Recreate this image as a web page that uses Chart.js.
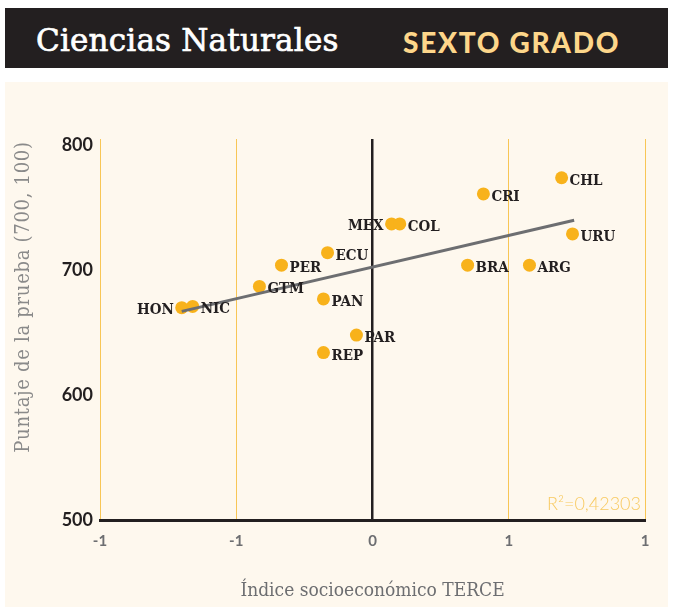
<!DOCTYPE html>
<html>
<head>
  <meta charset="utf-8">
  <title>Ciencias Naturales - Sexto grado</title>
  <script src="https://cdn.jsdelivr.net/npm/chart.js"></script>
  <style>
    body { margin: 0; width: 673px; height: 607px; background: #fff; position: relative; overflow: hidden; }
    .head { position: absolute; left: 5px; top: 8px; width: 663px; height: 60px; background: #231f20; }
    .head .t1 { position: absolute; left: 31px; top: 14px; font-family: "DejaVu Serif", serif; font-size: 31px; line-height: normal; color: #fff; letter-spacing: 0.2px; -webkit-text-stroke: 0.7px #fff; }
    .head .t2 { position: absolute; left: 398px; top: 17px; font-family: Lato, sans-serif; font-weight: 900; font-size: 28px; color: #fdd68a; letter-spacing: 1.7px; }
    .panel { position: absolute; left: 5px; top: 82px; width: 663px; height: 525px; background: #fef8ee; }
    #wrap { position: absolute; left: 0; top: 82px; width: 673px; height: 525px; }
  </style>
</head>
<body>
  <div class="head"><span class="t1">Ciencias Naturales</span><span class="t2">SEXTO GRADO</span></div>
  <div class="panel"></div>
  <div id="wrap"><canvas id="c" width="673" height="525"></canvas></div>
  <script>
    // countries and their values (index, score)
    const countries = ["HON", "NIC", "GTM", "PER", "ECU", "PAN", "PAR", "REP", "MEX", "COL", "CRI", "CHL", "URU", "BRA", "ARG"];
    const sesIndex = [-0.70, -0.66, -0.415, -0.334, -0.165, -0.18, -0.059, -0.18, 0.07, 0.10, 0.407, 0.694, 0.734, 0.349, 0.576];
    const scores = [670, 671, 687, 704, 714, 677, 648, 634, 737, 737, 761, 774, 729, 704, 704];

    // linear trend (end points)
    const trendX = [-0.70, 0.74];
    const trendY = [667, 740];

    const xTickLabels = ["-1", "-1", "0", "1", "1"];
    const yTicks = [500, 600, 700, 800];
    const r2Label = "R²=0,42303";

    const leftLabels = ["HON", "MEX"];

    const labelPlugin = {
      id: "labels",
      afterDatasetsDraw(chart) {
        const { ctx } = chart;
        const meta = chart.getDatasetMeta(1);
        ctx.save();
        ctx.font = "bold 15px 'DejaVu Serif Condensed', 'DejaVu Serif', serif";
        ctx.fillStyle = "#231f20";
        ctx.textBaseline = "middle";
        meta.data.forEach((pt, i) => {
          const name = countries[i];
          if (leftLabels.includes(name)) {
            ctx.textAlign = "right";
            ctx.fillText(name, pt.x - 8, pt.y + 2);
          } else {
            ctx.textAlign = "left";
            ctx.fillText(name, pt.x + 8, pt.y + 3);
          }
        });
        // R² note
        const a = chart.chartArea;
        ctx.font = "300 18px Lato, sans-serif";
        ctx.fillStyle = "#f8ca62";
        ctx.textAlign = "right";
        ctx.textBaseline = "alphabetic";
        ctx.fillText(r2Label, a.right - 4, a.bottom - 10);
        // y axis title
        ctx.save();
        ctx.translate(24, 215);
        ctx.rotate(-Math.PI / 2);
        ctx.font = "20px 'DejaVu Serif Condensed', 'DejaVu Serif', serif";
        ctx.letterSpacing = "0.7px";
        ctx.fillStyle = "#8a8a8a";
        ctx.textAlign = "center";
        ctx.textBaseline = "middle";
        ctx.fillText("Puntaje de la prueba (700, 100)", 0, 0);
        ctx.restore();
        ctx.restore();
      }
    };

    new Chart(document.getElementById("c"), {
      type: "scatter",
      data: {
        datasets: [
          {
            type: "line",
            data: trendX.map((x, i) => ({ x, y: trendY[i] })),
            borderColor: "#6d6e71",
            borderWidth: 3,
            pointRadius: 0,
            fill: false
          },
          {
            data: sesIndex.map((x, i) => ({ x, y: scores[i] })),
            backgroundColor: "#f8b21b",
            borderWidth: 0,
            pointRadius: 6.5,
            pointHoverRadius: 6.5
          }
        ]
      },
      options: {
        responsive: false,
        animation: false,
        events: [],
        layout: { padding: { top: 57, right: 28, left: 0, bottom: 0 } },
        plugins: { legend: { display: false }, tooltip: { enabled: false } },
        scales: {
          x: {
            type: "linear",
            min: -1,
            max: 1,
            afterBuildTicks: (s) => { s.ticks = [-1, -0.5, 0, 0.5, 1].map(v => ({ value: v })); },
            afterFit: (s) => { s.height = 87; },
            ticks: {
              callback: (v, i) => xTickLabels[i],
              color: "#6d6e71",
              font: { family: "Lato", size: 15, weight: "bold" },
              padding: 12,
              maxRotation: 0
            },
            grid: {
              drawTicks: false,
              color: (c) => (c.tick && c.tick.value === 0 ? "#231f20" : "#f8c655"),
              lineWidth: (c) => (c.tick && c.tick.value === 0 ? 2.5 : 1)
            },
            border: { display: true, color: "#231f20", width: 3 },
            title: {
              display: true,
              text: "Índice socioeconómico TERCE",
              color: "#6d6e71",
              font: { family: "'DejaVu Serif Condensed', 'DejaVu Serif', serif", size: 19 },
              padding: { top: 0, bottom: 5 }
            }
          },
          y: {
            min: 500,
            max: 805,
            afterBuildTicks: (s) => { s.ticks = yTicks.map(v => ({ value: v })); },
            afterFit: (s) => { s.width = 100; },
            ticks: {
              color: "#231f20",
              font: { family: "Lato", size: 18, weight: "bold" },
              padding: 7
            },
            grid: { display: false, drawTicks: false },
            border: { display: false }
          }
        }
      },
      plugins: [labelPlugin]
    });
  </script>
</body>
</html>
